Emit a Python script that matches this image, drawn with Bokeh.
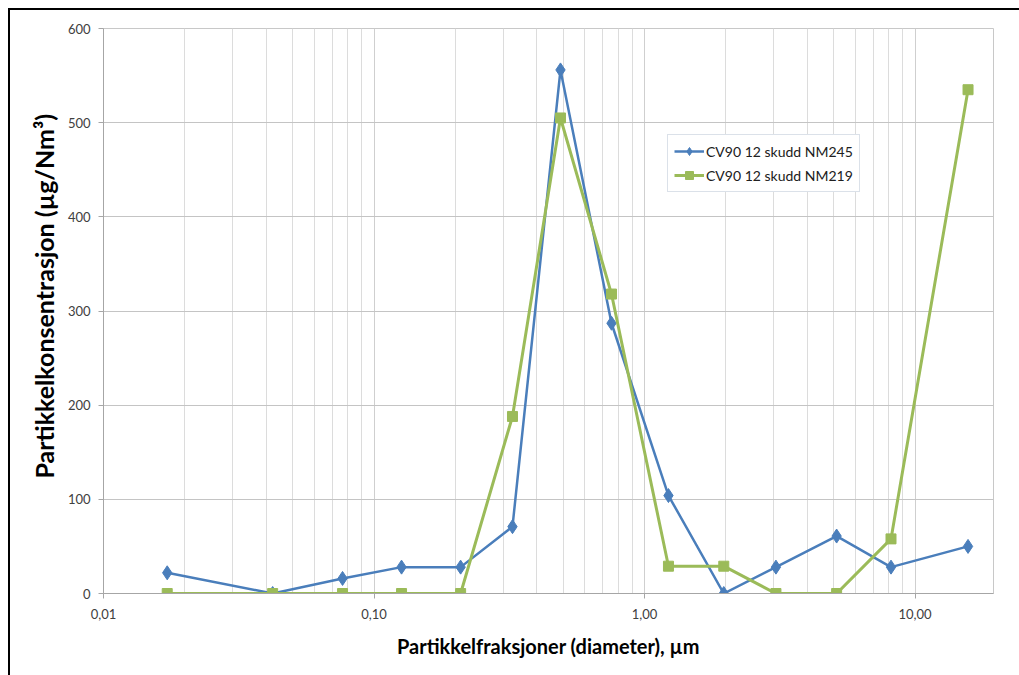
from bokeh.plotting import figure
from bokeh.models import FixedTicker, CustomJSTickFormatter, Range1d, Legend, LegendItem, Title
from bokeh.embed import file_html
from bokeh.resources import INLINE

diameter = [0.0172, 0.0422, 0.0765, 0.1264, 0.209, 0.325, 0.489, 0.755, 1.226, 1.963, 3.06, 5.13, 8.15, 15.7]
nm245 = [22, 0, 16, 28, 28, 71, 556, 287, 104, 0, 28, 61, 28, 50]
nm219 = [0, 0, 0, 0, 0, 188, 505, 318, 29, 29, 0, 0, 58, 535]
series_names = ["CV90 12 skudd NM245", "CV90 12 skudd NM219"]
x_major = [0.01, 0.1, 1, 10]
y_major = [0, 100, 200, 300, 400, 500, 600]

FONT = "Lato"
BLUE = "#4A7EBB"
GREEN = "#9BBB59"

minor = []
for d in [0.01, 0.1, 1, 10]:
    for k in range(2, 10):
        minor.append(round(d * k, 6))

p = figure(width=1009, height=665, x_axis_type="log", output_backend="svg",
           toolbar_location=None, frame_width=890, frame_height=565,
           min_border_left=93, min_border_top=18, min_border_right=26, min_border_bottom=82,
           x_range=Range1d(0.01, 19.5), y_range=Range1d(0, 600),
           styles={"margin-left": "8px", "margin-top": "8px",
                   "border-left": "2px solid black", "border-top": "2px solid black"})
p.outline_line_color = "#c8c8c8"
p.background_fill_color = "white"

p.xaxis.ticker = FixedTicker(ticks=x_major, minor_ticks=minor)
p.xaxis.formatter = CustomJSTickFormatter(code="return tick.toFixed(2).replace('.', ',');")
p.yaxis.ticker = FixedTicker(ticks=y_major)
p.xgrid.ticker = FixedTicker(ticks=x_major, minor_ticks=minor)
p.xgrid.grid_line_color = "#cfcfcf"
p.xgrid.minor_grid_line_color = "#dcdcdc"
p.ygrid.grid_line_color = "#c4c4c4"

for ax in [p.xaxis[0], p.yaxis[0]]:
    ax.axis_line_color = "#a6a6a6"
    ax.major_tick_line_color = "#a6a6a6"
    ax.minor_tick_line_color = None
    ax.major_tick_in = 0
    ax.major_tick_out = 5
    ax.major_label_text_font = FONT
    ax.major_label_text_font_size = "13px"
    ax.major_label_text_color = "#404040"
    ax.axis_label_text_font = FONT
    ax.axis_label_text_font_style = "bold"
    ax.axis_label_text_color = "#000000"

p.xaxis.axis_label_text_font_size = "20px"
p.xaxis.axis_label = "Partikkelfraksjoner (diameter), µm"
p.xaxis.major_label_standoff = 10
p.xaxis.axis_label_standoff = 12
p.yaxis.major_label_standoff = 8

ytitle = Title(text="Partikkelkonsentrasjon (µg/Nm³)", align="left", offset=115,
               text_font=FONT, text_font_style="bold", text_font_size="25px",
               text_color="#000000", standoff=12)
p.add_layout(ytitle, "left")

l1 = p.line(diameter, nm245, line_color=BLUE, line_width=2.5)
m1 = p.scatter(diameter, nm245, marker="diamond", size=14, fill_color=BLUE, line_color=BLUE)
l2 = p.line(diameter, nm219, line_color=GREEN, line_width=3)
m2 = p.scatter(diameter, nm219, marker="square", size=10, fill_color=GREEN, line_color=GREEN)

legend = Legend(items=[LegendItem(label=series_names[0], renderers=[l1, m1]),
                       LegendItem(label=series_names[1], renderers=[l2, m2])],
                location=(564, 401))
legend.label_text_font = FONT
legend.label_text_font_size = "14px"
legend.label_text_color = "#202020"
legend.border_line_color = "#b8c4d4"
legend.background_fill_alpha = 1
legend.glyph_width = 30
legend.label_standoff = 2
legend.padding = 6
legend.spacing = 4
legend.margin = 0
p.add_layout(legend, "center")

open("out.html", "w").write(file_html(p, INLINE))
